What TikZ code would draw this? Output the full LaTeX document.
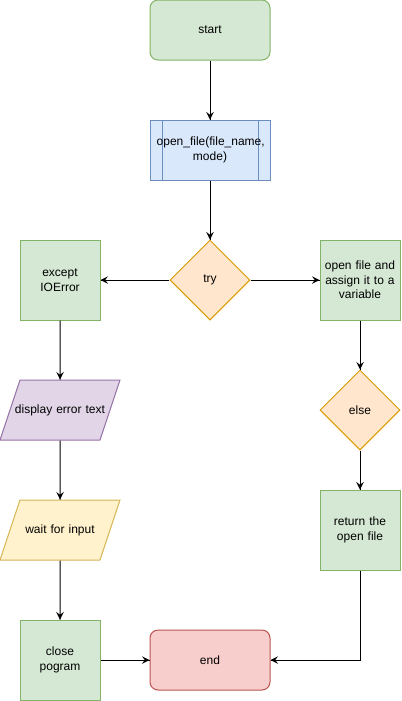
\documentclass[tikz,border=0pt]{standalone}
\usepackage{fontspec}
\setmainfont{Liberation Sans}
\usetikzlibrary{arrows,decorations.markings,shapes.geometric,positioning}
\definecolor{greenfill}{HTML}{D5E8D4}
\definecolor{greendraw}{HTML}{82B366}
\definecolor{bluefill}{HTML}{DAE8FC}
\definecolor{bluedraw}{HTML}{6C8EBF}
\definecolor{orangefill}{HTML}{FFE6CC}
\definecolor{orangedraw}{HTML}{D79B00}
\definecolor{purplefill}{HTML}{E1D5E7}
\definecolor{purpledraw}{HTML}{9673A6}
\definecolor{yellowfill}{HTML}{FFF2CC}
\definecolor{yellowdraw}{HTML}{D6B656}
\definecolor{redfill}{HTML}{F8CECC}
\definecolor{reddraw}{HTML}{B85450}
\tikzstyle{terminal} = [rectangle, rounded corners=6pt, minimum width=90pt, minimum height=45pt, text width=80pt, text centered, inner sep=0pt, font=\fontsize{9}{10.8}\selectfont]
\tikzstyle{basic} = [rectangle, minimum width=60pt, minimum height=60pt, text width=56pt, text centered, inner sep=0pt, draw=greendraw, fill=greenfill, font=\fontsize{9}{10.8}\selectfont]
\tikzstyle{decision} = [diamond, aspect=1, minimum width=60pt, minimum height=60pt, inner sep=0pt, text centered, draw=orangedraw, fill=orangefill, font=\fontsize{9}{10.8}\selectfont]
\tikzstyle{io} = [trapezium, trapezium left angle=71.57, trapezium right angle=108.43, text width=74pt, text height=6.5pt, text depth=2pt, inner xsep=-7pt, inner ysep=18.25pt, text centered, font=\fontsize{9}{10.8}\selectfont]
\tikzstyle{process} = [rectangle, minimum width=90pt, minimum height=45pt, text width=80pt, text centered, inner sep=0pt, draw=bluedraw, fill=bluefill, font=\fontsize{9}{10.8}\selectfont,
    path picture={\draw[bluedraw] ([xshift=9pt]path picture bounding box.north west) -- ([xshift=9pt]path picture bounding box.south west);
    \draw[bluedraw] ([xshift=-9pt]path picture bounding box.north east) -- ([xshift=-9pt]path picture bounding box.south east);}]

\begin{document}
\begin{tikzpicture}[x=0.75pt, y=-0.75pt, line width=0.75pt]
        \tikzset{myptr/.style={decoration={markings,mark=at position 1 with %
    {\arrow[scale=1.4,>=stealth]{>}}},postaction={decorate}}}
        \useasboundingbox (0,0) rectangle (401,701);
        \node (start) [terminal, draw=greendraw, fill=greenfill] at (210,30) {start};
        \node (openFunc) [process, node distance=90pt, below of=start] {open\_file(file\_name,\\mode)};
        \node (try) [decision, node distance=97.5pt, below of=openFunc] {try};

        \node (except) [basic, node distance=112.5pt, left of=try] {except\\IOError};
        \node (display) [io, draw=purpledraw, fill=purplefill, node distance=97.5pt, below of=except] {display error text};
        \node (wait) [io, draw=yellowdraw, fill=yellowfill, node distance=90pt, below of=display] {wait for input};
        \node (close) [basic, node distance=97.5pt, below of=wait] {close\\pogram};
        \node (end) [terminal, draw=reddraw, fill=redfill, node distance=112.5pt, right of=close] {end};

        \node (openFile) [basic, node distance=112.5pt, right of=try] {open file and\\assign it to a\\variable};
        \node (else) [decision, node distance=97.5pt, below of=openFile] {else};
        \node (ret) [basic, node distance=90pt, below of=else] {return the\\open file};

        \draw [myptr] (start) -- (openFunc);
        \draw [myptr] (openFunc) -- (try);
        \draw [myptr] (try) -- (except);
        \draw [myptr] (try) -- (openFile);

        \draw [myptr] (except) -- (display);
        \draw [myptr] (display) -- (wait);
        \draw [myptr] (wait) -- (close);
        \draw [myptr] (close) -- (end);

        \draw [myptr] (openFile) -- (else);
        \draw [myptr] (else) -- (ret);
        \draw [myptr] (ret.south) |- (end.east);
    \end{tikzpicture}
\end{document}
